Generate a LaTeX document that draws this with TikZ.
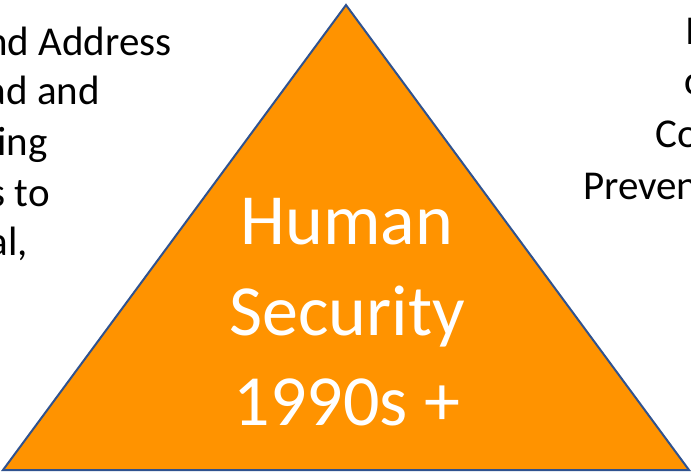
\documentclass[tikz,border=0pt]{standalone}
\usepackage{fontspec}
\setmainfont{Carlito}
\usetikzlibrary{positioning}
\definecolor{triorange}{RGB}{255,147,0}
\definecolor{triblue}{RGB}{47,82,143}

\begin{document}
\begin{tikzpicture}[x=1pt,y=1pt,
		sidetext/.style={font=\fontsize{41}{50}\selectfont,inner sep=0pt},
		midtext/.style={font=\fontsize{72}{90}\selectfont,text=white,inner sep=0pt}]
		\useasboundingbox (0,0) rectangle (691,472);
		\draw[triblue,line width=2pt,fill=triorange] (3,2) -- (346,467) -- (689,2) -- cycle;
		
		% left column, cut by the page edge
		\foreach \t/\x/\y [count=\i] in {nd Address/172/416,ad and/100/367,ing/48/316,s to/50/265,{al,}/28/216}
		\node[sidetext,anchor=base east] (left\i) at (\x,\y) {\t};
		
		% right column, cut by the page edge
		\foreach \t/\x/\y [count=\i] in {I/685/427,c/684/377,Co/655/324,Preven/583/272}
		\node[sidetext,anchor=base west] (right\i) at (\x,\y) {\t};
		
		\node[midtext,anchor=base] (human) at (347,227) {Human};
		\node[midtext,anchor=base] (security) at (347,137) {Security};
		\node[midtext,anchor=base] (years) at (347,47) {1990s +};
	\end{tikzpicture}
\end{document}
